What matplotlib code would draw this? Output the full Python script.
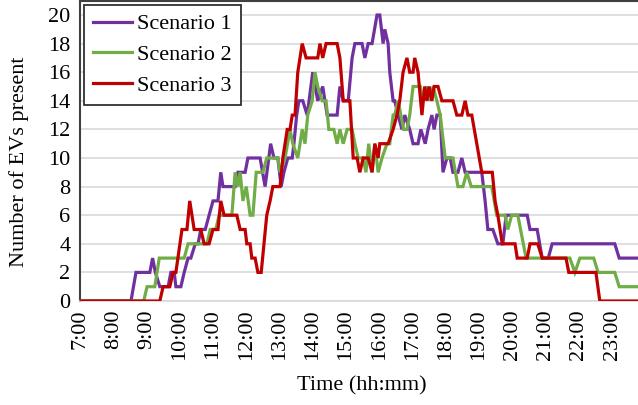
import matplotlib
matplotlib.use("Agg")
import matplotlib.pyplot as plt

plt.rcParams['font.family'] = ['Liberation Serif', 'DejaVu Serif']

# ---- data (time of each vertex, number of EVs) ----
s1_times = ["07:00", "08:32", "08:41", "09:06", "09:11", "09:16", "09:24", "09:39", "09:44", "09:50",
            "09:53", "10:02", "10:08", "10:15", "10:20", "10:28", "10:33", "10:38", "10:46", "10:53",
            "11:00", "11:09", "11:14", "11:18", "11:40", "11:45", "11:58", "12:03", "12:25", "12:34",
            "12:44", "12:50", "12:57", "13:03", "13:08", "13:15", "13:23", "13:26", "13:31", "13:35",
            "13:42", "13:50", "14:00", "14:09", "14:18", "14:26", "14:44", "14:49", "14:55", "15:04",
            "15:11", "15:16", "15:29", "15:34", "15:40", "15:47", "15:56", "16:01", "16:07", "16:10",
            "16:16", "16:19", "16:25", "16:28", "16:34", "16:41", "16:46", "16:55", "17:01", "17:10",
            "17:15", "17:23", "17:28", "17:35", "17:39", "17:44", "17:50", "17:55", "18:02", "18:08",
            "18:13", "18:22", "18:29", "18:35", "19:05", "19:11", "19:16", "19:25", "19:34", "19:43",
            "19:49", "20:27", "20:32", "20:45", "20:54", "21:05", "21:12", "23:05", "23:13", "23:55"]
s1_values = [0, 0, 2, 2, 3, 2, 1, 1, 2, 2,
             1, 1, 2, 3, 3, 4, 4, 5, 5, 6,
             7, 7, 9, 8, 8, 9, 9, 10, 10, 8,
             11, 10, 10, 8, 9, 10, 10, 11, 13, 14,
             14, 13, 16, 14, 15, 13, 13, 15, 14, 14,
             17, 18, 18, 17, 18, 18, 20, 20, 18, 19,
             18, 16, 14, 14, 13, 12, 13, 12, 11, 11,
             12, 11, 12, 13, 12, 13, 13, 9, 10, 10,
             9, 9, 10, 9, 9, 7, 5, 5, 4, 4,
             6, 6, 5, 5, 3, 3, 4, 4, 3, 3]

s2_times = ["07:00", "08:55", "09:01", "09:15", "09:23", "10:08", "10:15", "10:49", "10:55", "11:05",
            "11:11", "11:34", "11:40", "11:45", "11:49", "11:54", "12:00", "12:07", "12:12", "12:18",
            "12:30", "12:37", "12:57", "13:01", "13:10", "13:19", "13:24", "13:33", "13:41", "13:46",
            "13:51", "13:59", "14:04", "14:09", "14:17", "14:24", "14:29", "14:38", "14:44", "14:49",
            "14:55", "15:02", "15:11", "15:16", "15:22", "15:31", "15:36", "15:41", "15:47", "15:52",
            "15:58", "16:05", "16:14", "16:19", "16:25", "16:28", "16:34", "16:39", "16:44", "16:50",
            "16:55", "17:01", "17:14", "17:19", "17:26", "17:32", "17:37", "17:44", "17:50", "17:59",
            "18:13", "18:22", "18:31", "18:38", "18:46", "19:23", "19:32", "19:47", "19:52", "19:59",
            "20:10", "20:25", "21:44", "21:53", "22:02", "22:27", "22:35", "23:05", "23:13", "23:55"]
s2_values = [0, 0, 1, 1, 3, 3, 4, 4, 5, 5,
             6, 6, 9, 8, 9, 7, 8, 6, 6, 9,
             9, 10, 10, 9, 10, 12, 11, 10, 12, 11,
             13, 14, 16, 15, 14, 14, 12, 12, 11, 12,
             11, 12, 12, 11, 10, 10, 9, 11, 9, 11,
             9, 10, 11, 11, 13, 13, 14, 13, 12, 12,
             13, 15, 15, 14, 15, 14, 15, 14, 13, 10,
             10, 8, 8, 9, 8, 8, 6, 6, 5, 6,
             6, 3, 3, 2, 3, 3, 2, 2, 1, 1]

s3_times = ["07:00", "09:24", "09:30", "09:42", "09:48", "09:53", "10:04", "10:13", "10:18", "10:26",
            "10:38", "10:44", "10:53", "11:00", "11:09", "11:14", "11:20", "11:43", "11:49", "11:58",
            "12:01", "12:07", "12:10", "12:16", "12:21", "12:27", "12:32", "12:37", "12:43", "12:48",
            "13:01", "13:06", "13:14", "13:19", "13:23", "13:28", "13:33", "13:41", "13:48", "14:09",
            "14:13", "14:18", "14:24", "14:44", "14:49", "14:55", "15:07", "15:13", "15:20", "15:25",
            "15:31", "15:40", "15:47", "15:52", "15:58", "16:01", "16:16", "16:25", "16:32", "16:37",
            "16:43", "16:50", "16:55", "17:01", "17:04", "17:10", "17:17", "17:22", "17:26", "17:30",
            "17:35", "17:39", "17:46", "17:53", "18:13", "18:20", "18:29", "18:35", "18:40", "18:47",
            "18:56", "19:05", "19:24", "19:29", "19:34", "19:42", "20:05", "20:09", "20:27", "20:32",
            "20:46", "20:54", "21:37", "21:42", "22:31", "22:38", "23:55"]
s3_values = [0, 0, 1, 1, 2, 2, 5, 5, 7, 5,
             5, 4, 4, 5, 5, 7, 6, 6, 5, 5,
             4, 4, 3, 3, 2, 2, 4, 6, 7, 8,
             8, 10, 12, 12, 13, 13, 16, 18, 17, 17,
             18, 17, 18, 18, 17, 14, 14, 10, 10, 9,
             10, 10, 9, 11, 10, 11, 11, 12, 13, 14,
             16, 17, 16, 16, 17, 16, 13, 15, 14, 15,
             14, 15, 15, 14, 14, 13, 13, 14, 13, 13,
             11, 9, 9, 7, 6, 4, 4, 3, 3, 4,
             4, 3, 3, 2, 2, 0, 0]

series_labels = ["Scenario 1", "Scenario 2", "Scenario 3"]
series_colors = ["#7030A0", "#70AD47", "#C00000"]
tick_hours = list(range(7, 24))
tick_labels = [f"{h}:00" for h in tick_hours]
y_ticks = list(range(0, 21, 2))


def to_hours(ts):
    out = []
    for t in ts:
        h, m = t.split(":")
        out.append(int(h) + int(m) / 60.0)
    return out


fig = plt.figure(figsize=(6.38, 4.05), dpi=100)
ax = fig.add_axes([80 / 638, 1 - 301 / 405, 1 - 80 / 638, 300 / 405])

all_series = [(s1_times, s1_values), (s2_times, s2_values), (s3_times, s3_values)]
for i, ((ts, vs), lab, col) in enumerate(zip(all_series, series_labels, series_colors)):
    ax.plot(to_hours(ts), vs, color=col, lw=2.3, label=lab, zorder=3 + i,
            solid_joinstyle='miter')

ax.set_xlim(7.0, 7.0 + 558 / 33.25)
ax.set_ylim(0, 300 / 14.3)
ax.set_yticks(y_ticks)
ax.set_xticks(tick_hours)
ax.set_xticklabels(tick_labels, rotation=90)
ax.tick_params(axis='both', length=0, labelsize=16)
ax.tick_params(axis='y', pad=7)
ax.tick_params(axis='x', pad=6)
ax.grid(axis='y', color='#d9d9d9', lw=1.2)
ax.set_axisbelow(True)
for side in ['top', 'left']:
    ax.spines[side].set_color('#404040')
    ax.spines[side].set_linewidth(1.5)
ax.spines['bottom'].set_color('#d9d9d9')
ax.spines['bottom'].set_linewidth(1.2)
ax.spines['right'].set_visible(False)

ax.set_ylabel("Number of EVs present", fontsize=16)
ax.yaxis.set_label_coords(-0.092, 0.463)
ax.set_xlabel("Time (hh:mm)", fontsize=16)
ax.xaxis.set_label_coords(0.505, -0.252)

leg = fig.legend(loc='upper left', bbox_to_anchor=(84 / 638, 1 - 5 / 405), borderaxespad=0,
                 fontsize=16, frameon=True, fancybox=False, framealpha=1, edgecolor='#303030',
                 handlelength=1.75, handletextpad=0.25, labelspacing=0.46, borderpad=0.4)
leg.get_frame().set_linewidth(1.3)

fig.savefig("out.png", dpi=100)
